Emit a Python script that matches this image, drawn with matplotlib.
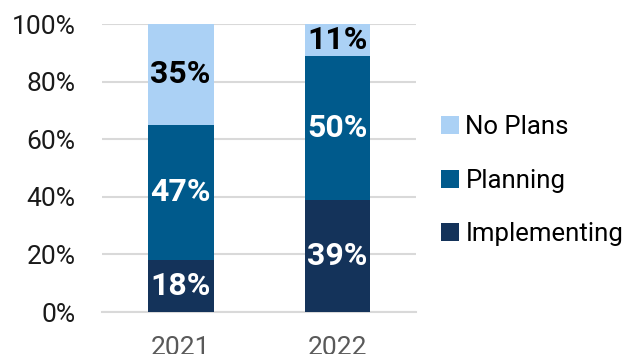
import matplotlib
matplotlib.use('Agg')
import matplotlib.pyplot as plt
import numpy as np

years = ['2021', '2022']
implementing = [18, 39]
planning = [47, 50]
no_plans = [35, 11]

DARK = '#14335A'; MID = '#005A8C'; LIGHT = '#ABD1F5'; GRID = '#D9D9D9'
plt.rcParams['font.family'] = ['Roboto', 'DejaVu Sans']

fig = plt.figure(figsize=(6.38, 3.54), dpi=100)
ax = fig.add_axes([0.16, 0.1186, 0.492, 0.8136])

x = np.arange(len(years))
w = 0.42
series = [('Implementing', implementing, DARK, 'white'),
          ('Planning', planning, MID, 'white'),
          ('No Plans', no_plans, LIGHT, 'black')]
bottom = np.zeros(len(years))
handles = []
for name, vals, col, tcol in series:
    vals = np.array(vals, dtype=float)
    b = ax.bar(x, vals, w, bottom=bottom, color=col, label=name, zorder=3)
    handles.append(b)
    for xi, v, b0 in zip(x, vals, bottom):
        ax.text(xi, b0 + v / 2, f'{v:.0f}%', ha='center', va='center',
                color=tcol, fontsize=23, fontweight='bold', zorder=4)
    bottom += vals

ax.set_xlim(-0.5, 1.5)
ax.set_ylim(0, 100)
ax.set_yticks(range(0, 101, 20))
ax.set_yticklabels([f'{t}%' for t in range(0, 101, 20)])
ax.set_xticks(x)
ax.set_xticklabels(years)
ax.tick_params(axis='y', length=0, labelsize=19, pad=19, colors='#1a1a1a')
ax.tick_params(axis='x', length=0, labelsize=19, pad=17, labelcolor='#595959')
ax.grid(axis='y', color=GRID, lw=1.5, zorder=0)
ax.set_axisbelow(True)
for s in ['top', 'right', 'left']:
    ax.spines[s].set_visible(False)
ax.spines['bottom'].set_color(GRID)
ax.spines['bottom'].set_linewidth(1.5)

fig.legend(handles[::-1], [h.get_label() for h in handles[::-1]],
           loc='center left', bbox_to_anchor=(0.655, 0.49), frameon=False,
           fontsize=18.5, handlelength=0.7, handleheight=0.7,
           handletextpad=0.25, labelspacing=1.15)

fig.savefig('out.png', dpi=100)
